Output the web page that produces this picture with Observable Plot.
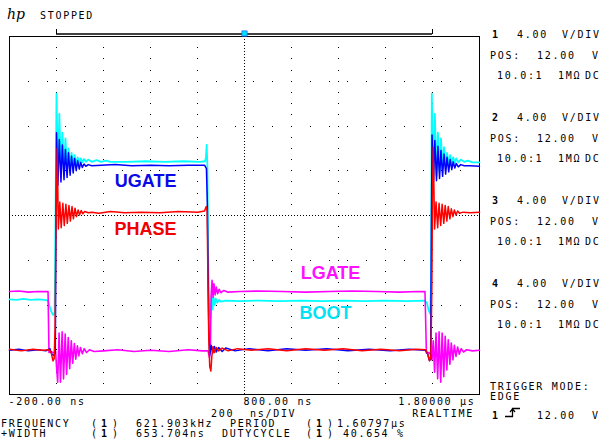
<!DOCTYPE html>
<html><head><meta charset="utf-8">
<script src="https://cdn.jsdelivr.net/npm/d3@7"></script>
<script src="https://cdn.jsdelivr.net/npm/@observablehq/plot@0.6"></script>
<style>
body{margin:0;background:#fff;}
#wrap{position:relative;width:602px;height:439px;overflow:hidden;font-family:"DejaVu Sans Mono",monospace;font-size:10px;letter-spacing:1.7px;color:#000;}
#wrap svg{position:absolute;left:0;top:0;}
.t{position:absolute;white-space:pre;line-height:10px;}
.b{font-weight:bold;}
</style></head><body><div id="wrap"></div>
<script>
// ---- scope settings (ns, V) ----
const timeDomain = [-200, 1800];
const voltDomain = [-4, 28];
const gridTimes = [0, 200, 400, 600, 1000, 1200, 1400, 1600];
const gridVolts = [-4, 0, 4, 8, 16, 20, 24, 28];
const centerTime = [800];
const centerVolt = [12];
const windowTimes = [0, 1600];
const triggerTime = [800];
const tickTimes = [-200, 800, 1800];
const tickLabels = ["-200.00 ns", "800.00 ns", "1.80000 µs"];

// ---- traces: [time ns, volts] ----
const ugate = [
[-200,-0.05],[-160,0.05],[-120,-0.1],[-80,0.0],[-45,-0.1],[-28,0.1],[-20,-0.4],[-12,-0.5],[-5,-0.3],[-2,12.0],[0,19.4],[6,14.7],[12,18.8],[19,15.0],[25,18.3],[32,15.2],[38,17.9],[45,15.4],[51,17.6],[58,15.6],[64,17.3],[71,15.8],[77,17.1],[84,16.0],[90,16.9],[97,16.15],[103,16.75],[110,16.3],[117,16.6],[125,16.4],[135,16.55],[150,16.45],[190,16.5],[250,16.55],[320,16.45],[400,16.5],[480,16.45],[560,16.5],[630,16.5],[638,16.2],[642,13.0],[645,7.0],[648,2.0],[652,-0.5],[658,0.4],[665,-0.3],[672,0.3],[680,-0.2],[690,0.2],[705,-0.15],[720,0.15],[760,-0.1],[820,0.1],[900,-0.1],[980,0.1],[1060,-0.05],[1150,0.1],[1240,-0.1],[1330,0.05],[1420,-0.1],[1500,0.05],[1570,-0.05],[1580,-0.4],[1586,-0.9],[1592,-0.9],[1595,10.0],[1598,19.2],[1604,15.0],[1610,18.7],[1617,15.1],[1623,18.2],[1630,15.3],[1636,17.8],[1643,15.5],[1649,17.5],[1656,15.7],[1662,17.2],[1669,15.9],[1675,17.0],[1682,16.1],[1688,16.8],[1695,16.25],[1701,16.65],[1710,16.35],[1720,16.55],[1735,16.45],[1760,16.45],[1800,16.4]
];
const phase = [
[-200,0.05],[-150,-0.1],[-100,0.05],[-60,-0.05],[-30,0.0],[-22,-0.3],[-15,-1.0],[-10,-0.8],[-6,2.0],[-3,9.9],[0,13.5],[3,18.0],[8,10.8],[14,13.2],[20,10.9],[27,13.1],[33,11.1],[40,13.0],[46,11.3],[53,12.9],[59,11.5],[66,12.8],[72,11.7],[79,12.65],[85,11.9],[92,12.5],[98,12.05],[105,12.45],[112,12.15],[120,12.35],[135,12.25],[150,12.3],[180,12.2],[230,12.35],[290,12.25],[360,12.3],[440,12.25],[520,12.35],[600,12.3],[630,12.4],[637,12.8],[641,12.4],[644,7.0],[648,1.0],[652,-1.5],[657,-1.9],[661,-0.6],[666,0.3],[672,-0.25],[680,0.2],[690,-0.1],[705,0.15],[730,-0.1],[770,0.1],[830,-0.05],[900,0.1],[980,-0.1],[1060,0.1],[1140,-0.05],[1220,0.1],[1300,-0.1],[1380,0.05],[1460,-0.1],[1530,0.05],[1572,0.0],[1580,-0.4],[1587,-1.0],[1593,-0.6],[1597,5.0],[1600,14.0],[1603,18.1],[1609,10.8],[1615,13.2],[1622,10.9],[1628,13.1],[1635,11.1],[1641,13.0],[1648,11.3],[1654,12.9],[1661,11.5],[1667,12.8],[1674,11.7],[1680,12.6],[1687,11.9],[1693,12.5],[1700,12.05],[1707,12.4],[1715,12.2],[1730,12.3],[1760,12.25],[1800,12.3]
];
const lgate = [
[-200,5.2],[-160,5.25],[-120,5.15],[-80,5.2],[-45,5.2],[-36,5.2],[-34,2.5],[-32,-0.25],[-20,-0.2],[-8,-0.3],[-4,-0.1],[0,-1.5],[5,-2.9],[11,1.5],[17,-2.9],[24,1.6],[30,-2.6],[37,1.4],[43,-2.2],[50,1.1],[56,-1.7],[63,0.8],[69,-1.2],[76,0.55],[82,-0.85],[89,0.35],[95,-0.55],[102,0.2],[110,-0.35],[118,0.1],[128,-0.25],[140,0.0],[160,-0.15],[200,-0.1],[260,0.0],[330,-0.15],[400,-0.05],[480,-0.15],[560,0.0],[620,-0.1],[645,-0.1],[651,-0.7],[655,0.3],[658,4.8],[662,6.2],[666,4.7],[670,5.9],[675,4.9],[680,5.6],[686,5.0],[692,5.4],[700,5.1],[712,5.3],[730,5.15],[780,5.2],[860,5.25],[960,5.2],[1060,5.15],[1160,5.2],[1260,5.25],[1360,5.2],[1460,5.15],[1540,5.2],[1568,5.2],[1571,2.5],[1574,-0.3],[1585,-0.25],[1592,-0.4],[1598,-0.9],[1603,0.8],[1609,-2.0],[1615,1.5],[1622,-2.6],[1628,1.6],[1635,-2.9],[1641,1.5],[1648,-2.4],[1654,1.2],[1661,-1.8],[1667,0.9],[1674,-1.3],[1680,0.6],[1687,-0.9],[1693,0.4],[1700,-0.6],[1707,0.25],[1714,-0.4],[1722,0.1],[1732,-0.2],[1745,0.0],[1770,-0.1],[1800,-0.05]
];
const boot = [
[-200,4.5],[-170,4.45],[-140,4.55],[-110,4.45],[-80,4.5],[-50,4.45],[-36,4.4],[-30,3.9],[-22,3.4],[-14,3.1],[-8,3.3],[-4,12.0],[0,22.9],[6,15.5],[12,21.1],[19,15.8],[25,19.4],[32,16.0],[38,18.9],[45,16.2],[51,18.0],[58,16.4],[64,17.6],[71,16.5],[77,17.4],[84,16.6],[90,17.2],[97,16.7],[103,17.1],[110,16.75],[117,17.05],[125,16.8],[135,17.0],[150,16.8],[170,16.95],[190,16.8],[210,16.9],[230,16.8],[300,16.8],[380,16.85],[460,16.8],[540,16.85],[610,16.8],[632,16.85],[636,17.2],[639,18.3],[642,16.5],[645,9.0],[648,5.0],[652,3.3],[656,2.8],[660,4.8],[664,3.6],[668,4.7],[673,4.0],[678,4.55],[684,4.2],[692,4.45],[700,4.3],[720,4.4],[780,4.35],[860,4.4],[950,4.35],[1040,4.4],[1130,4.35],[1220,4.4],[1310,4.35],[1400,4.4],[1490,4.35],[1565,4.4],[1576,4.2],[1584,3.5],[1590,3.2],[1594,6.0],[1597,22.9],[1604,15.2],[1610,21.1],[1617,15.6],[1623,19.4],[1630,16.0],[1636,18.9],[1643,16.2],[1649,18.1],[1656,16.4],[1662,17.6],[1669,16.5],[1675,17.4],[1682,16.6],[1688,17.2],[1695,16.7],[1701,17.1],[1710,16.75],[1720,17.0],[1735,16.8],[1750,16.9],[1770,16.75],[1800,16.75]
];

// ---- trace annotations ----
const labelNames = ["UGATE", "PHASE", "LGATE", "BOOT"];
const labelTimes = [379, 379, 1166, 1145];
const labelVolts = [15.1, 10.75, 6.8, 3.25];

const traceColor = {UGATE: "#0000ff", PHASE: "#ff0000", LGATE: "#ff00ff", BOOT: "#00ffff"};
const labelColor = {UGATE: "#0a0ae6", PHASE: "#f00000", LGATE: "#ff10ff", BOOT: "#00e3f5"};

const labels = labelNames.map((n, i) => ({name: n, t: labelTimes[i], v: labelVolts[i]}));
const ticks = tickTimes.map((t, i) => ({t, label: tickLabels[i]}));
const X = d => d[0], Y = d => d[1];
const yTop = voltDomain[1];

const chart = Plot.plot({
  width: 602, height: 439,
  marginLeft: 9, marginRight: 123, marginTop: 36, marginBottom: 45,
  x: {type: "linear", domain: timeDomain, axis: null},
  y: {type: "linear", domain: voltDomain, axis: null},
  style: {fontFamily: "DejaVu Sans Mono, monospace", fontSize: "10px", letterSpacing: "1.7px", background: "transparent", overflow: "visible"},
  marks: [
    Plot.ruleX(gridTimes, {stroke: "#000", strokeDasharray: "1,10.1875", shapeRendering: "crispEdges"}),
    Plot.ruleY(gridVolts, {stroke: "#000", strokeDasharray: "1,17.8", shapeRendering: "crispEdges"}),
    Plot.ruleX(centerTime, {stroke: "#000", strokeDasharray: "1,2", shapeRendering: "crispEdges"}),
    Plot.ruleY(centerVolt, {stroke: "#000", strokeDasharray: "1,2", shapeRendering: "crispEdges"}),
    Plot.frame({stroke: "#000", shapeRendering: "crispEdges"}),
    // delay window bar above the graticule
    Plot.ruleY([yTop], {x1: windowTimes[0], x2: windowTimes[1], dy: -2.5, stroke: "#000", strokeWidth: 1.3}),
    Plot.ruleX(windowTimes, {y1: yTop, y2: yTop + 0.45, dy: -2, stroke: "#000", strokeWidth: 1}),
    Plot.dot(triggerTime, {x: d => d, y: () => yTop, dy: -3, symbol: "square", r: 3, fill: "#00e0ff", stroke: "#2060ff", strokeWidth: 0.7}),
    // traces
    Plot.line(boot, {x: X, y: Y, stroke: traceColor.BOOT, strokeWidth: 1.8}),
    Plot.line(lgate, {x: X, y: Y, stroke: traceColor.LGATE, strokeWidth: 1.6}),
    Plot.line(ugate, {x: X, y: Y, stroke: traceColor.UGATE, strokeWidth: 1.5}),
    Plot.line(phase, {x: X, y: Y, stroke: traceColor.PHASE, strokeWidth: 1.5}),
    // trace names
    Plot.text(labels, {x: "t", y: "v", text: "name", fill: d => labelColor[d.name], fontSize: 18, fontWeight: "bold", fontFamily: "Liberation Sans, Arial, sans-serif"}),
    // time labels under the graticule
    Plot.text(ticks.slice(0, 2), {x: "t", text: "label", frameAnchor: "bottom", dy: 10, dx: -1, textAnchor: "start"}),
    Plot.text(ticks.slice(2), {x: "t", text: "label", frameAnchor: "bottom", dy: 10, dx: -4, textAnchor: "end"})
  ]
});
chart.querySelectorAll('g[font-size="18"]').forEach(g => g.style.letterSpacing = "0px");

const wrap = document.getElementById("wrap");
wrap.appendChild(chart);

// ---- instrument annotations (text) ----
const texts = [
  ["STOPPED", 40, 16],
  ["200", 211, 414], ["ns/DIV", 250, 414],
  ["FREQUENCY", 1, 424], ["+WIDTH", 1, 434],
  ["621.903kHz", 136, 424], ["653.704ns", 136, 434],
  ["PERIOD", 230, 424], ["DUTYCYCLE", 222, 434],
  ["1.60797µs", 337, 424], ["40.654 %", 343, 434],
  ["TRIGGER MODE:", 490, 387], ["EDGE", 490, 397],
  ["12.00", 537, 416], ["V", 592, 416]
];
const panelTops = [35, 118, 201, 284];
const chanNames = ["1", "2", "3", "4"];
chanNames.forEach((c, i) => {
  const y = panelTops[i];
  texts.push([c, 492, y, true], ["4.00", 517, y], ["V/DIV", 562, y]);
  texts.push(["POS:", 490, y + 21], ["12.00", 537, y + 21], ["V", 592, y + 21]);
  texts.push(["10.0:1", 497, y + 41], ["1MΩ", 558, y + 41], ["DC", 585, y + 41]);
});
[[91, 424], [91, 434], [306, 424], [306, 434]].forEach(([x, y]) => {
  texts.push(["(", x, y], ["1", x + 10, y, true], [")", x + 21, y]);
});
texts.push(["1", 492, 416, true]);
texts.push(["REALTIME", 474, 414, false, true]);
texts.forEach(([s, x, cy, bold, right]) => {
  const d = document.createElement("div");
  d.className = "t" + (bold ? " b" : "");
  d.textContent = s;
  if (right) { d.style.right = (602 - x) + "px"; } else { d.style.left = x + "px"; }
  d.style.top = (cy - 5) + "px";
  wrap.appendChild(d);
});
// hp logo
const hp = document.createElement("div");
hp.className = "t";
hp.textContent = "hp";
Object.assign(hp.style, {left: "7px", top: "7px", fontFamily: "'DejaVu Serif', serif", fontStyle: "italic", fontSize: "14px", lineHeight: "14px", letterSpacing: "0px"});
wrap.appendChild(hp);
// rising-edge trigger symbol
const svgNS = "http://www.w3.org/2000/svg";
const sym = document.createElementNS(svgNS, "svg");
sym.setAttribute("width", 20); sym.setAttribute("height", 14);
Object.assign(sym.style, {position: "absolute", left: "504px", top: "407px"});
sym.innerHTML = '<path d="M1,9.5 H8.5 V1.5 H16" fill="none" stroke="#000" stroke-width="1.3"/><path d="M6,5 L8.5,2 L11,5" fill="none" stroke="#000" stroke-width="1.2"/>';
wrap.appendChild(sym);
</script></body></html>
